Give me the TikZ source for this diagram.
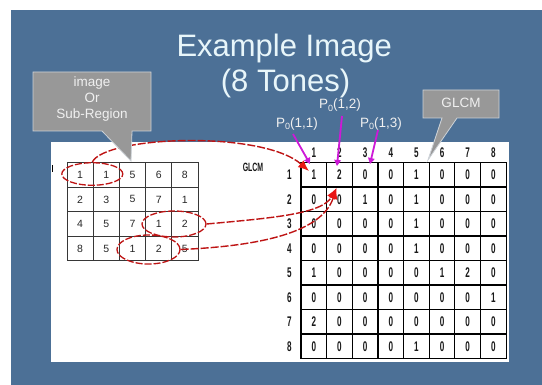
\documentclass[tikz,border=0pt]{standalone}
\usepackage{fontspec}
\setmainfont{Liberation Sans}
\usetikzlibrary{shapes.geometric,arrows.meta}
\definecolor{slideblue}{RGB}{76,112,150}
\definecolor{callgrey}{RGB}{152,152,152}
\definecolor{callborder}{RGB}{205,210,215}
\definecolor{titlecol}{RGB}{232,246,250}
\definecolor{dashred}{RGB}{190,20,20}
\definecolor{headred}{RGB}{232,20,20}
\definecolor{magline}{RGB}{205,25,215}
\definecolor{gridgrey}{RGB}{55,55,55}
\newcommand{\condtxt}[1]{\scalebox{0.58}[1]{#1}}
\newcommand{\Pzero}[1]{P\raisebox{-0.3ex}{\fontsize{9}{9}\selectfont 0}(#1)}
\tikzset{
  titletxt/.style={font=\fontsize{31}{36}\selectfont, inner sep=0pt, anchor=base, text=titlecol},
  lcell/.style={draw=gridgrey, line width=0.9pt, minimum width=26.2pt, minimum height=24.6pt, inner sep=0pt, font=\fontsize{10.5}{12}\selectfont, text=black!85},
  gcell/.style={draw=black, line width=1.1pt, minimum width=25.65pt, minimum height=24.5pt, inner sep=0pt, font=\bfseries\fontsize{14}{16}\selectfont, text=black!90},
  glab/.style={inner sep=0pt, font=\bfseries\fontsize{14}{16}\selectfont, text=black!90},
  redell/.style={ellipse, draw=dashred, line width=1.3pt, dash pattern=on 7pt off 2pt, inner sep=0pt},
  redconn/.style={draw=dashred, line width=1.4pt, dash pattern=on 8pt off 2pt, -{Latex[length=11pt,width=9pt,color=headred,fill=headred]}},
  magarrow/.style={draw=magline, line width=1.8pt, -{Triangle[length=6pt,width=6.5pt]}},
  calloutbox/.style={fill=callgrey, draw=callborder, line width=0.8pt},
  callouttxt/.style={text=white!94!black, font=\fontsize{13.5}{16}\selectfont, align=center, inner sep=0pt},
  plabel/.style={text=white!94!black, font=\fontsize{13.5}{16}\selectfont, inner sep=0pt, anchor=base}
}
\begin{document}
\begin{tikzpicture}[x=1pt,y=-1pt]
\useasboundingbox (0,0) rectangle (542,385);
\fill[white] (0,0) rectangle (542,385);
\fill[slideblue] (11,10) rectangle (542,385);
\fill[white] (51,142) rectangle (509,362);

% title
\node[titletxt] (title1) at (284.2,57) {Example Image};
\node[titletxt] (title2) at (285.5,92) {(8 Tones)};

% left image grid
\foreach \row [count=\r] in {{1,1,5,6,8},{2,3,5,7,1},{4,5,7,1,2},{8,5,1,2,5}} {
  \foreach \v [count=\c] in \row {
    \node[lcell] (L-\r-\c) at ({67+26.2*(\c-0.5)},{162.5+24.6*(\r-0.5)}) {\v};
  }
}
\draw[line width=1pt] (52,165) -- (52,172);

% GLCM grid
\foreach \row [count=\r] in {{1,2,0,0,1,0,0,0},{0,0,1,0,1,0,0,0},{0,0,0,0,1,0,0,0},{0,0,0,0,1,0,0,0},{1,0,0,0,0,1,2,0},{0,0,0,0,0,0,0,1},{2,0,0,0,0,0,0,0},{0,0,0,0,1,0,0,0}} {
  \foreach \v [count=\c] in \row {
    \node[gcell] (G-\r-\c) at ({301+25.65*(\c-0.5)},{162.5+24.5*(\r-0.5)}) {\condtxt{\v}};
  }
}
\foreach \c in {1,...,8} {
  \node[glab] (gc-\c) at ({301+25.65*(\c-0.5)},152.5) {\condtxt{\c}};
  \node[glab] (gr-\c) at (289.5,{162.5+24.5*(\c-0.5)}) {\condtxt{\c}};
}
\node[glab, font=\bfseries\fontsize{12}{14}\selectfont] (glcmsmall) at (253,167) {\condtxt{GLCM}};

% red ellipses and connectors
\node[redell, minimum width=61pt, minimum height=22.5pt] (e1) at (92.3,174) {};
\node[redell, minimum width=64pt, minimum height=26pt] (e2) at (174,224) {};
\node[redell, minimum width=63pt, minimum height=29pt] (e3) at (148.5,249.5) {};
\coordinate (a1) at (309,171);
\coordinate (a2) at (336.5,188);
\draw[redconn] (e1.north) .. controls (105,136) and (262,130) .. (a1);
\draw[redconn] (e2.east) .. controls (272,218) and (322,214) .. (a2);
\draw[redconn] (e3.east) .. controls (262,246) and (322,232) .. (a2);

% callouts
\draw[calloutbox] (33,72) -- (151,72) -- (151,131) -- (132,131) -- (131,161) -- (102,131) -- (33,131) -- cycle;
\node[callouttxt] (callL) at (92,99) {image\\Or\\Sub-Region};
\draw[calloutbox] (423,90) -- (499,90) -- (499,118) -- (457,118) -- (428,160) -- (442,118) -- (423,118) -- cycle;
\node[callouttxt] (callG) at (461,103) {GLCM};

% P labels and magenta arrows
\node[plabel] (p11) at (297,127.5) {\Pzero{1,1}};
\node[plabel] (p12) at (340,109) {\Pzero{1,2}};
\node[plabel] (p13) at (381,127.5) {\Pzero{1,3}};
\coordinate (m1s) at (293,134);
\coordinate (m2s) at (342,116);
\coordinate (m3s) at (378,130);
\coordinate (m1e) at (310,164);
\coordinate (m2e) at (337,166);
\coordinate (m3e) at (370,164);
\draw[magarrow] (m1s) -- (m1e);
\draw[magarrow] (m2s) -- (m2e);
\draw[magarrow] (m3s) -- (m3e);
\end{tikzpicture}
\end{document}
